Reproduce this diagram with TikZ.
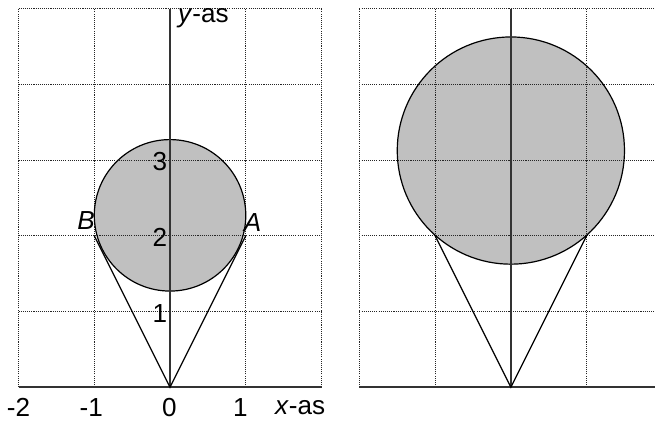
\documentclass[tikz,border=0pt]{standalone}
\usepackage{fontspec}
\setmainfont{Liberation Sans}
\begin{document}
\begin{tikzpicture}[x=1cm,y=1cm,
  gridline/.style={line width=0.3pt, dash pattern=on 0.4pt off 0.4pt, black!85},
  axisline/.style={line width=0.6pt, black!80},
  rimline/.style={line width=0.45pt, black},
  conline/.style={line width=0.45pt, black},
  disc/.style={fill={rgb,255:red,192;green,192;blue,192}},
  lbl/.style={inner sep=0pt, font=\fontsize{9.8}{11}\selectfont}]
\useasboundingbox (-2.245,-0.445) rectangle (6.403,5.113);
\clip (-2.245,-0.445) rectangle (6.403,5.113);
% ---------- left panel ----------
\coordinate (O) at (0,0);
\coordinate (A) at (1,2);
\coordinate (B) at (-1,2);
\coordinate (C) at (0,2.27);
\coordinate (T) at (0,5);
\coordinate (XL) at (-2,0);
\coordinate (XR) at (2,0);
\fill[disc] (C) circle (1);
\foreach \x in {-2,-1,1,2} \draw[gridline] (\x,0) -- (\x,5);
\foreach \y in {1,2,3,4,5} \draw[gridline] (-2,\y) -- (2,\y);
\draw[rimline] (C) circle (1);
\draw[axisline] (XL) -- (XR);
\draw[axisline] (O) -- (T);
\draw[conline] (B) -- (O) -- (A);
\node[lbl, anchor=east] (t1) at (-0.03,0.98) {1};
\node[lbl, anchor=east] (t2) at (-0.03,1.98) {2};
\node[lbl, anchor=east] (t3) at (-0.03,2.98) {3};
\node[lbl] (xm2) at (-2.0,-0.27) {-2};
\node[lbl] (xm1) at (-1.04,-0.27) {-1};
\node[lbl] (x0) at (-0.01,-0.27) {0};
\node[lbl] (x1) at (0.93,-0.27) {1};
\node[lbl, anchor=west] (xas) at (1.38,-0.27) {\textit{x}-as};
\node[lbl, anchor=west] (yas) at (0.1,4.87) {\textit{y}-as};
\node[lbl] (la) at (1.09,2.18) {\textit{A}};
\node[lbl] (lb) at (-1.11,2.2) {\textit{B}};
% ---------- right panel ----------
\begin{scope}[xshift=4.5cm]
\coordinate (O2) at (0,0);
\coordinate (A2) at (1,2);
\coordinate (B2) at (-1,2);
\coordinate (C2) at (0,3.125);
\coordinate (T2) at (0,5);
\coordinate (XL2) at (-2,0);
\coordinate (XR2) at (2,0);
\fill[disc] (C2) circle (1.5);
\foreach \x in {-2,-1,1,2} \draw[gridline] (\x,0) -- (\x,5);
\foreach \y in {1,2,3,4,5} \draw[gridline] (-2,\y) -- (2,\y);
\draw[rimline] (C2) circle (1.5);
\draw[axisline] (XL2) -- (XR2);
\draw[axisline] (O2) -- (T2);
\draw[conline] (B2) -- (O2) -- (A2);
\end{scope}
\end{tikzpicture}
\end{document}
